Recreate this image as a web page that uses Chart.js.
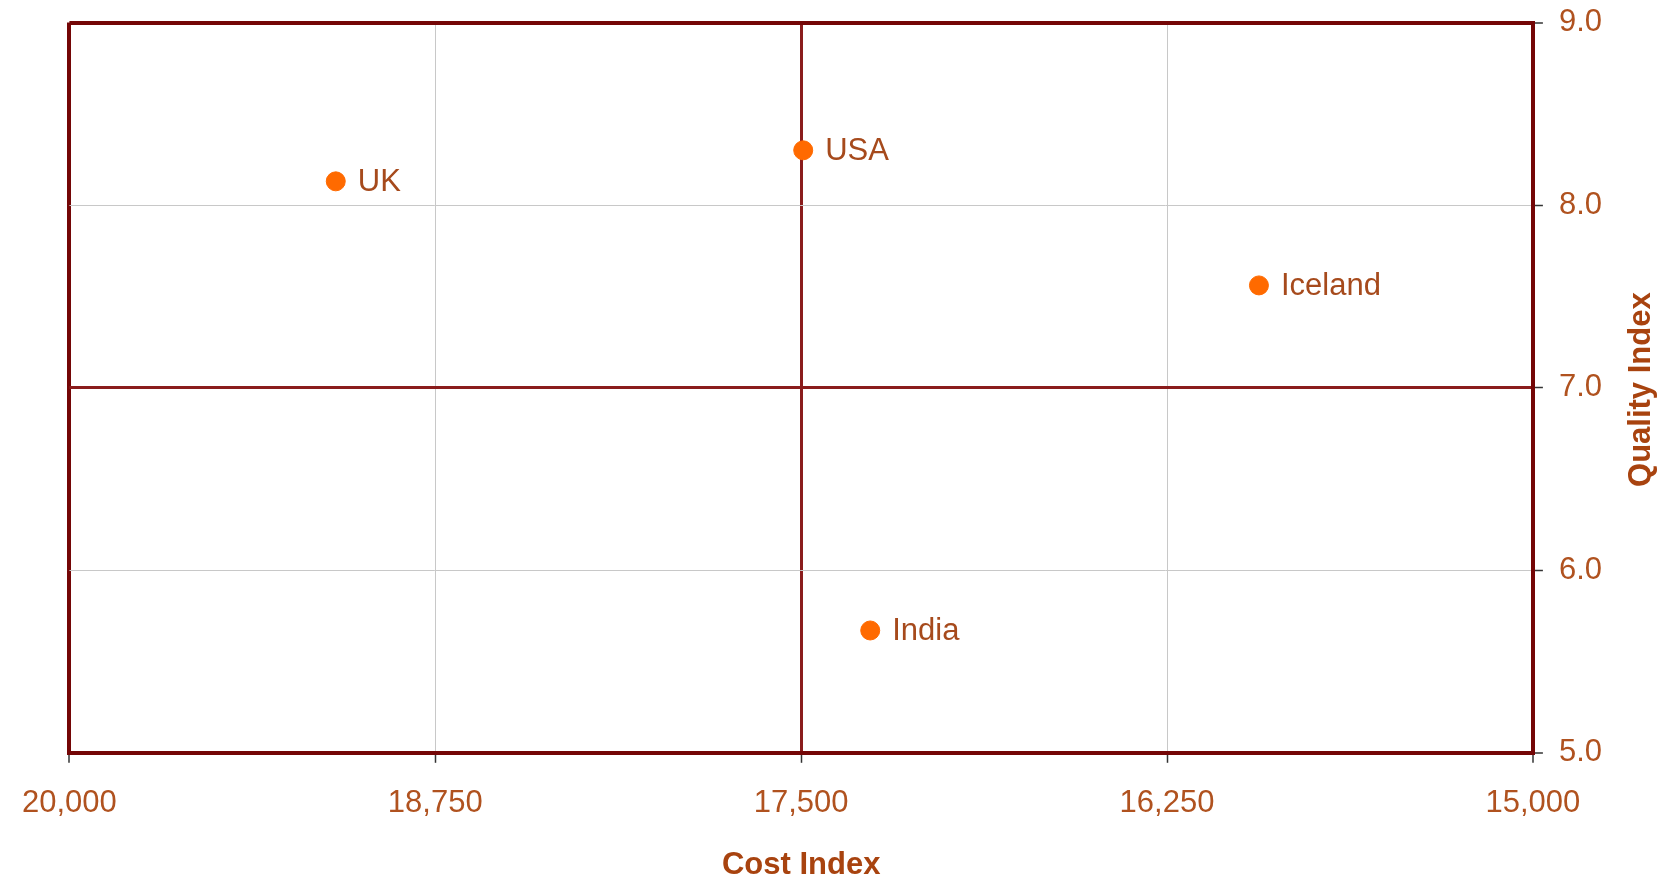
<!DOCTYPE html>
<html>
<head>
<meta charset="utf-8">
<title>Cost vs Quality</title>
<script src="https://cdn.jsdelivr.net/npm/chart.js@4/dist/chart.umd.min.js"></script>
<style>
  html, body { margin: 0; padding: 0; background: #fff; }
  #wrap { width: 1665px; height: 881px; }
</style>
</head>
<body>
<div id="wrap"><canvas id="chart"></canvas></div>
<script>
const countries = ["UK", "USA", "Iceland", "India"];
const costIndex = [19090, 17493, 15936, 17264];
const qualityIndex = [8.13, 8.30, 7.56, 5.67];

const FONT = "'Liberation Sans', Arial, sans-serif";
const MAROON = "#740606";
const LABEL = "#b0521f";
const TITLE = "#a8430f";
const DOT = "#ff6a00";

// quadrant dividers
const xMid = 17500;
const yMid = 7;

function withCommas(v) {
  return Number(v).toLocaleString("en-US");
}

function gridStyle(value, min, max, mid) {
  if (value === min || value === max) return { color: MAROON, width: 4 };
  if (value === mid) return { color: "#8a1c1c", width: 3 };
  return { color: "#c8c8c8", width: 1 };
}

// text next to each point + the y title reading bottom to top
const pointLabels = {
  id: "pointLabels",
  afterDatasetsDraw(chart) {
    const ctx = chart.ctx;
    const meta = chart.getDatasetMeta(0);
    ctx.save();
    ctx.font = "31px " + FONT;
    ctx.fillStyle = "#a64a1c";
    ctx.textAlign = "left";
    ctx.textBaseline = "middle";
    meta.data.forEach(function (pt, i) {
      ctx.fillText(countries[i], pt.x + 22, pt.y + 1);
    });
    ctx.restore();
  },
  afterDraw(chart) {
    const ctx = chart.ctx;
    const area = chart.chartArea;
    ctx.save();
    ctx.translate(1641, (area.top + area.bottom) / 2 + 2);
    ctx.rotate(-Math.PI / 2);
    ctx.font = "bold 31px " + FONT;
    ctx.fillStyle = TITLE;
    ctx.textAlign = "center";
    ctx.textBaseline = "middle";
    ctx.fillText("Quality Index", 0, 0);
    ctx.restore();
  }
};

new Chart(document.getElementById("chart"), {
  type: "scatter",
  data: {
    datasets: [{
      data: costIndex.map((c, i) => ({ x: c, y: qualityIndex[i] })),
      backgroundColor: DOT,
      borderColor: DOT,
      pointRadius: 9.5,
      pointHoverRadius: 9.5
    }]
  },
  plugins: [pointLabels],
  options: {
    animation: false,
    responsive: true,
    maintainAspectRatio: false,
    layout: { padding: { left: 25.5, top: 22.5, right: 47, bottom: 0 } },
    plugins: { legend: { display: false }, tooltip: { enabled: false } },
    scales: {
      x: {
        type: "linear",
        reverse: true,
        min: 15000,
        max: 20000,
        border: { display: true, color: MAROON, width: 4 },
        grid: {
          color: (c) => gridStyle(c.tick.value, 15000, 20000, xMid).color,
          lineWidth: (c) => gridStyle(c.tick.value, 15000, 20000, xMid).width,
          tickColor: "#333",
          tickWidth: 1.5,
          tickLength: 10
        },
        ticks: {
          stepSize: 1250,
          padding: 22,
          color: LABEL,
          font: { family: FONT, size: 31 },
          maxRotation: 0,
          callback: (v) => withCommas(v)
        },
        title: {
          display: true,
          text: "Cost Index",
          color: TITLE,
          font: { family: FONT, size: 31, weight: "bold", lineHeight: 1 },
          padding: { top: 6, bottom: 0 }
        }
      },
      y: {
        position: "right",
        min: 5,
        max: 9,
        // let the end labels overhang instead of shrinking the plot
        afterFit: (s) => { s.paddingTop = 0; s.paddingBottom = 0; },
        border: { display: true, color: MAROON, width: 4 },
        grid: {
          color: (c) => gridStyle(c.tick.value, 5, 9, yMid).color,
          lineWidth: (c) => gridStyle(c.tick.value, 5, 9, yMid).width,
          tickColor: "#333",
          tickWidth: 1.5,
          tickLength: 10
        },
        ticks: {
          stepSize: 1,
          padding: 16,
          color: LABEL,
          font: { family: FONT, size: 31 },
          callback: (v) => Number(v).toFixed(1)
        }
      }
    }
  }
});
</script>
</body>
</html>
